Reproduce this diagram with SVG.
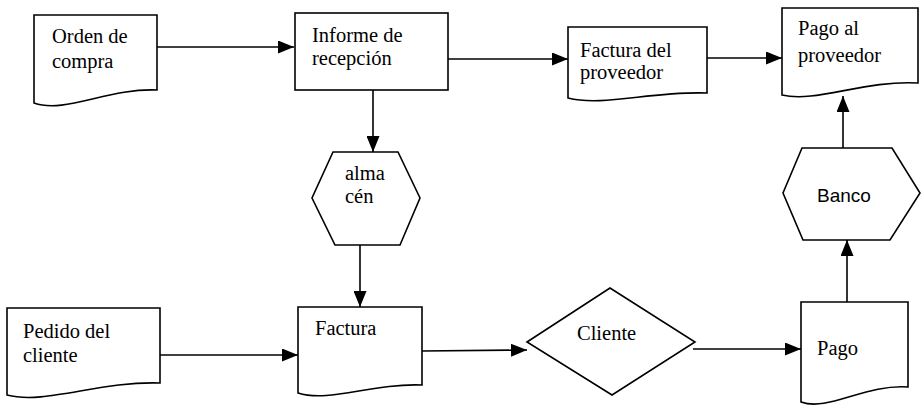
<svg xmlns="http://www.w3.org/2000/svg" width="923" height="408" viewBox="0 0 923 408">
<defs>
<style>
.s{fill:#fff;stroke:#000;stroke-width:1.6;stroke-linejoin:miter}
.t{font-family:"Liberation Serif","Times New Roman",serif;font-size:20.5px;fill:#000}
.ts{font-family:"Liberation Sans",Arial,sans-serif;font-size:19px;fill:#000}
.c{fill:none;stroke:#000;stroke-width:1.6}
</style>
<marker id="ah" markerUnits="userSpaceOnUse" markerWidth="17" markerHeight="13" refX="16" refY="6.5" orient="auto">
<path d="M0,0 L16,6.5 L0,13 Z" fill="#000"/>
</marker>
</defs>
<rect width="923" height="408" fill="#fff"/>
<g id="connectors">
<line class="c" x1="157" y1="47" x2="294" y2="47" marker-end="url(#ah)"/>
<line class="c" x1="448" y1="59" x2="568" y2="59" marker-end="url(#ah)"/>
<line class="c" x1="707" y1="58" x2="782" y2="58" marker-end="url(#ah)"/>
<line class="c" x1="373" y1="90" x2="373" y2="152" marker-end="url(#ah)"/>
<line class="c" x1="360" y1="245" x2="360" y2="307" marker-end="url(#ah)"/>
<line class="c" x1="160" y1="355" x2="298" y2="355" marker-end="url(#ah)"/>
<line class="c" x1="422" y1="351" x2="527" y2="350" marker-end="url(#ah)"/>
<line class="c" x1="693" y1="349" x2="801" y2="349" marker-end="url(#ah)"/>
<line class="c" x1="847" y1="302" x2="847" y2="240" marker-end="url(#ah)"/>
<line class="c" x1="843" y1="148" x2="843" y2="96" marker-end="url(#ah)"/>
</g>
<g id="orden-compra">
<path class="s" d="M34,15 H157 V90 C108,88 65,114 34,103 Z"/>
<text class="t" x="52" y="43">Orden de</text>
<text class="t" x="52" y="68">compra</text>
</g>
<g id="informe-recepcion">
<rect class="s" x="295" y="13" width="153" height="77"/>
<text class="t" x="312" y="42">Informe de</text>
<text class="t" x="312" y="65">recepción</text>
</g>
<g id="factura-proveedor">
<path class="s" d="M568,27 H707 V93 C651,91 603,107 568,98 Z"/>
<text class="t" x="580" y="57">Factura del</text>
<text class="t" x="580" y="79">proveedor</text>
</g>
<g id="pago-proveedor">
<path class="s" d="M782,8 H918 V83 C864,80 816,103 782,95 Z"/>
<text class="t" x="798" y="35">Pago al</text>
<text class="t" x="798" y="62">proveedor</text>
</g>
<g id="almacen">
<polygon class="s" points="333,152 398,152 420,198 400,245 335,245 312,198"/>
<text class="t" x="345" y="180">alma</text>
<text class="t" x="345" y="203">cén</text>
</g>
<g id="banco">
<polygon class="s" points="802,148 892,148 920,193 890,240 803,240 783,193"/>
<text class="ts" x="844" y="202" text-anchor="middle">Banco</text>
</g>
<g id="pedido-cliente">
<path class="s" d="M7,308 H160 V383 C99,381 45,405 7,395 Z"/>
<text class="t" x="23" y="338">Pedido del</text>
<text class="t" x="23" y="362">cliente</text>
</g>
<g id="factura">
<path class="s" d="M298,307 H422 V385 C372,383 329,403 298,393 Z"/>
<text class="t" x="315" y="335">Factura</text>
</g>
<g id="cliente">
<polygon class="s" points="527,342 610,288 695,342 612,395"/>
<text class="t" x="577" y="340">Cliente</text>
</g>
<g id="pago">
<path class="s" d="M801,302 H908 V387 C865,384 828,412 801,402 Z"/>
<text class="t" x="817" y="355">Pago</text>
</g>
</svg>
